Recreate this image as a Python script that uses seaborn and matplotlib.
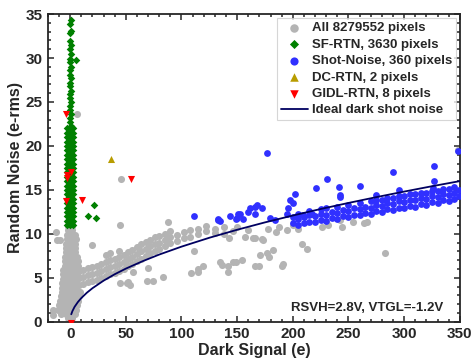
import numpy as np
import pandas as pd
import matplotlib
matplotlib.use('Agg')
import matplotlib.pyplot as plt
from matplotlib.ticker import MultipleLocator
import seaborn as sns

sns.set_style('ticks')
plt.rcParams['font.family'] = ['Liberation Sans', 'DejaVu Sans']
plt.rcParams['font.weight'] = 'bold'

# ---- data ----
# gray cloud, spike near zero: (y, [x...])
spike_rows = [
    (0.4, [-2, 2]), (0.9, [-8, -4, 0, 4]), (1.4, [-11, -7, -3, 1, 5]),
    (1.9, [-10, -6, -2, 2, 6]), (2.4, [-9, -5, -1, 3, 7]), (2.9, [-8, -4, 0, 4, 8]),
    (3.4, [-7, -3, 1, 5, 9]), (3.9, [-7, -3, 1, 5]), (4.4, [-7, -3, 1, 5]),
    (4.9, [-6, -2, 2, 6]), (5.4, [-6, -2, 2, 6]), (5.9, [-6, -2, 2, 6]),
    (6.4, [-5, -1, 3, 7]), (6.9, [-5, -1, 3, 7]), (7.4, [-5, -1, 3, 6]),
    (7.9, [-4, 0, 4]), (8.4, [-4, 0, 4]), (8.9, [-4, 0, 4]),
    (9.4, [-3, 1, 5]), (9.9, [-3, 1, 4]), (10.4, [-2, 2]), (10.9, [-2, 2]),
    (11.4, [-1, 2]),
]
# gray band rising to the right: (x, [y...])
band_cols = [
    (8, [4.2, 5.0, 5.8]), (12, [4.3, 5.1, 5.9]), (16, [4.5, 5.3, 6.1]),
    (20, [4.6, 5.4, 6.2]), (24, [4.8, 5.6, 6.4]), (28, [5.0, 5.8, 6.6]),
    (32, [5.2, 6.0, 6.8, 7.6]), (36, [5.4, 6.2, 7.0, 7.8]), (40, [5.6, 6.4, 7.2]),
    (44, [5.8, 6.6, 7.4, 8.0]), (48, [6.0, 6.8, 7.6]), (52, [6.3, 7.1, 7.9]),
    (56, [6.6, 7.4, 8.2]), (60, [6.9, 7.7, 8.5]), (64, [7.2, 8.0, 8.8]),
    (68, [7.5, 8.3, 9.1]), (72, [7.8, 8.6, 9.3]), (76, [8.0, 8.8, 9.6]),
    (80, [8.3, 9.0, 9.8]), (85, [8.6, 9.3, 10.0]), (90, [9.0, 9.7, 10.3]),
    (96, [9.2, 9.9]), (102, [9.5, 10.2]), (108, [9.7, 10.5]),
    (115, [10.0, 10.6]), (122, [10.3, 10.9]), (130, [10.1, 10.6]),
    (138, [10.0, 10.8]), (146, [10.3]), (150, [10.8]),
]
gray_out_x = [-15.5, -15, -12, -12.5, -9, 6, 45.8, 45, 88, 19.5, 50.9, 53.9, 45, 52,
              68.8, 74.7, 83.8, 56.6, 70, 109, 115, 115, 119.6, 111, 134.6, 142, 142,
              146, 136, 149, 154, 166, 170, 170.6, 176.5, 179, 182.5, 190, 191.5, 208,
              212.5, 282.8, 143, 166, 172, 164.6, 173, 157, 185, 195, 226, 232, 243.9,
              254, 264, 267, 242, 348, 160, 178, 188, 200, 205]
gray_out_y = [1.3, 0.8, 9.3, 10.2, 9.3, 23.6, 16.2, 11.0, 11.4, 8.7, 4.4, 4.2, 4.4, 4.55,
              4.6, 4.7, 5.1, 5.7, 6.1, 5.6, 5.7, 6.0, 6.3, 8.0, 6.8, 6.3, 5.7,
              6.8, 6.5, 6.8, 7.0, 6.4, 6.3, 7.6, 7.8, 7.4, 8.2, 6.3, 6.6, 8.9,
              8.3, 7.85, 9.5, 9.5, 9.4, 9.5, 9.3, 9.7, 10.2, 10.4, 10.8, 11.0, 10.8,
              11.4, 11.2, 11.4, 11.6, 19.5, 10.4, 10.6, 10.8, 11.0, 10.6]

# SF-RTN green column
green_top_y = [34.3, 33.9, 33.1, 32.8, 31.9, 31.5, 31.0, 30.4, 29.9, 29.5, 29.0, 28.6,
               28.1, 27.7, 27.2, 26.8, 26.3, 25.9, 25.4, 25.0, 24.5, 24.1, 23.6, 23.2,
               22.7, 22.3]
green_top_x = [0.5, -0.5, 0.5, 0, -0.5, 0.5, 0, 0.5, -0.5, 0, 0.5, -0.5,
               0, 0.5, -0.5, 0, 0.5, -0.5, 0, 0.5, -0.5, 0, 0.5, -0.5, 0, 0.5]
green_low_y = [11.0, 11.5, 12.0, 12.5, 13.0, 13.5, 14.0, 14.5, 15.0, 15.5, 16.0, 16.5,
               17.0, 17.5, 18.0, 18.5, 19.0, 19.5, 20.0, 20.5, 21.0, 21.5, 22.0]
green_low_xs = [-2.5, 0, 2.5]
green_out_x = [5.4, 15.9, 21.8, 23.6]
green_out_y = [29.8, 12.0, 13.3, 11.8]

# Shot-Noise blue: dense band (x, [y...]) plus scattered points
blue_cols = [
    (200, [11.2, 11.9]), (205, [11.0, 11.7, 12.3]), (210, [11.2, 11.9]),
    (215, [11.4, 12.1, 12.6]), (220, [11.3, 12.0]), (225, [11.6, 12.3, 12.8]),
    (230, [11.5, 12.2, 12.9]), (235, [11.8, 12.5]), (240, [11.7, 12.4, 13.1]),
    (245, [12.0, 12.7]), (250, [11.9, 12.6, 13.3]), (255, [12.2, 12.9]),
    (260, [12.1, 12.8, 13.5]), (265, [12.4, 13.1]), (270, [12.3, 13.0, 13.7]),
    (275, [12.6, 13.3, 13.9]), (280, [12.5, 13.2, 13.9]), (285, [12.8, 13.5, 14.1]),
    (290, [12.7, 13.4, 14.1]), (295, [13.0, 13.7, 14.3]), (300, [12.9, 13.6, 14.3]),
    (305, [13.2, 13.9, 14.5]), (310, [13.1, 13.8, 14.5]), (315, [13.4, 14.1, 14.7]),
    (320, [13.3, 14.0, 14.7]), (325, [13.6, 14.3, 14.9]), (330, [13.5, 14.2, 14.9]),
    (335, [13.8, 14.5, 15.1]), (340, [13.7, 14.4, 15.1]), (345, [14.0, 14.7, 15.3]),
    (349, [14.3, 15.0]),
]
blue_out_x = [111, 133, 132.5, 143.6, 149.6, 151, 152.6, 155.6, 161.6, 160, 166, 166,
              172, 167.6, 179.5, 184, 177, 195, 196, 197.5, 200.5, 202, 209.5, 217,
              220.8, 231, 242, 241.8, 242.5, 260, 275, 290, 295.6, 326.7, 326.7, 326,
              348.6, 134.6, 149]
blue_out_y = [12.0, 11.6, 11.75, 12.0, 11.8, 12.3, 12.3, 11.7, 13.0, 12.5, 12.3, 13.1,
              12.9, 13.3, 11.8, 11.6, 19.2, 12.3, 12.9, 13.9, 13.5, 14.5, 12.1, 12.3,
              15.2, 16.2, 14.4, 15.3, 14.2, 15.4, 14.4, 17.0, 15.0, 17.75, 16.0, 15.2,
              19.45, 11.5, 11.7]

dc_x = [37.1, 0.6]
dc_y = [18.5, -0.1]
gidl_x = [-3.9, 0.6, -3.0, -2.8, -3.6, 10.5, 54.8, 0.6]
gidl_y = [23.6, 17.0, 16.7, 16.4, 13.7, 13.9, 16.2, -0.1]

curve_x = [1, 2, 4, 7, 10, 15, 20, 30, 40, 50, 65, 80, 100, 125, 150, 175, 200,
           225, 250, 275, 300, 325, 350]
curve_y = [0.86, 1.21, 1.71, 2.26, 2.70, 3.31, 3.82, 4.68, 5.41, 6.05, 6.89, 7.65,
           8.55, 9.56, 10.47, 11.31, 12.09, 12.83, 13.52, 14.18, 14.81, 15.42, 16.0]

# ---- build tables ----
gx, gy = [], []
for y, xs in spike_rows:
    gx += xs
    gy += [y] * len(xs)
for x, ys in band_cols:
    gx += [x] * len(ys)
    gy += ys
gx += gray_out_x
gy += gray_out_y
gray = pd.DataFrame({'x': gx, 'y': gy})

sx = green_top_x + [x for y in green_low_y for x in green_low_xs] + green_out_x
sy = green_top_y + [y for y in green_low_y for x in green_low_xs] + green_out_y
green = pd.DataFrame({'x': sx, 'y': sy})

bx, by = [], []
for x, ys in blue_cols:
    bx += [x] * len(ys)
    by += ys
bx += blue_out_x
by += blue_out_y
blue = pd.DataFrame({'x': bx, 'y': by})

fig, ax = plt.subplots(figsize=(4.74, 3.6), dpi=100)
fig.subplots_adjust(left=0.101, right=0.970, bottom=0.106, top=0.961)

sns.scatterplot(data=gray, x='x', y='y', color='#b4b4b4', s=26, linewidth=0,
                marker='o', ax=ax, label='All 8279552 pixels', zorder=2)
sns.scatterplot(data=green, x='x', y='y', color='#008000', s=15, linewidth=0,
                marker='D', ax=ax, label='SF-RTN, 3630 pixels', zorder=3)
sns.scatterplot(data=blue, x='x', y='y', color='#3030ff', s=24, linewidth=0,
                marker='o', ax=ax, label='Shot-Noise, 360 pixels', zorder=3)
sns.scatterplot(x=dc_x, y=dc_y, color='#b89c00', s=26, linewidth=0,
                marker='^', ax=ax, label='DC-RTN, 2 pixels', zorder=4)
sns.scatterplot(x=gidl_x, y=gidl_y, color='#ff0000', s=26, linewidth=0,
                marker='v', ax=ax, label='GIDL-RTN, 8 pixels', zorder=5)
sns.lineplot(x=curve_x, y=curve_y, color='#000060', lw=1.3, sort=False,
             estimator=None, ax=ax, label='Ideal dark shot noise', zorder=6)

ax.set_xlim(-20, 350)
ax.set_ylim(0, 35)
ax.xaxis.set_major_locator(MultipleLocator(50))
ax.xaxis.set_minor_locator(MultipleLocator(10))
ax.yaxis.set_major_locator(MultipleLocator(5))
ax.yaxis.set_minor_locator(MultipleLocator(1))
ax.tick_params(which='both', direction='in', top=True, right=True, width=1.1)
ax.tick_params(which='major', length=4.5, labelsize=11, pad=4)
ax.tick_params(which='minor', length=2.5)
for lab in ax.get_xticklabels() + ax.get_yticklabels():
    lab.set_fontweight('bold')
for sp in ax.spines.values():
    sp.set_linewidth(1.3)

ax.set_xlabel('Dark Signal (e)', fontsize=11.5, fontweight='bold', labelpad=1)
ax.set_ylabel('Random Noise (e-rms)', fontsize=11.5, fontweight='bold', labelpad=2)

ax.text(0.96, 0.025, 'RSVH=2.8V, VTGL=-1.2V', transform=ax.transAxes,
        ha='right', va='bottom', fontsize=9.5, fontweight='bold')

handles, labels = ax.get_legend_handles_labels()
order = ['All 8279552 pixels', 'SF-RTN, 3630 pixels', 'Shot-Noise, 360 pixels',
         'DC-RTN, 2 pixels', 'GIDL-RTN, 8 pixels', 'Ideal dark shot noise']
hmap = dict(zip(labels, handles))
leg = ax.legend([hmap[l] for l in order], order, loc='upper right',
                prop={'weight': 'bold', 'size': 9.5}, frameon=True, fancybox=False,
                edgecolor='#cccccc', borderaxespad=0.3, handlelength=2.0,
                handletextpad=0.3, labelspacing=0.32, borderpad=0.3, markerscale=1.2)
leg.get_frame().set_linewidth(0.8)

fig.savefig('out.png', dpi=100)
